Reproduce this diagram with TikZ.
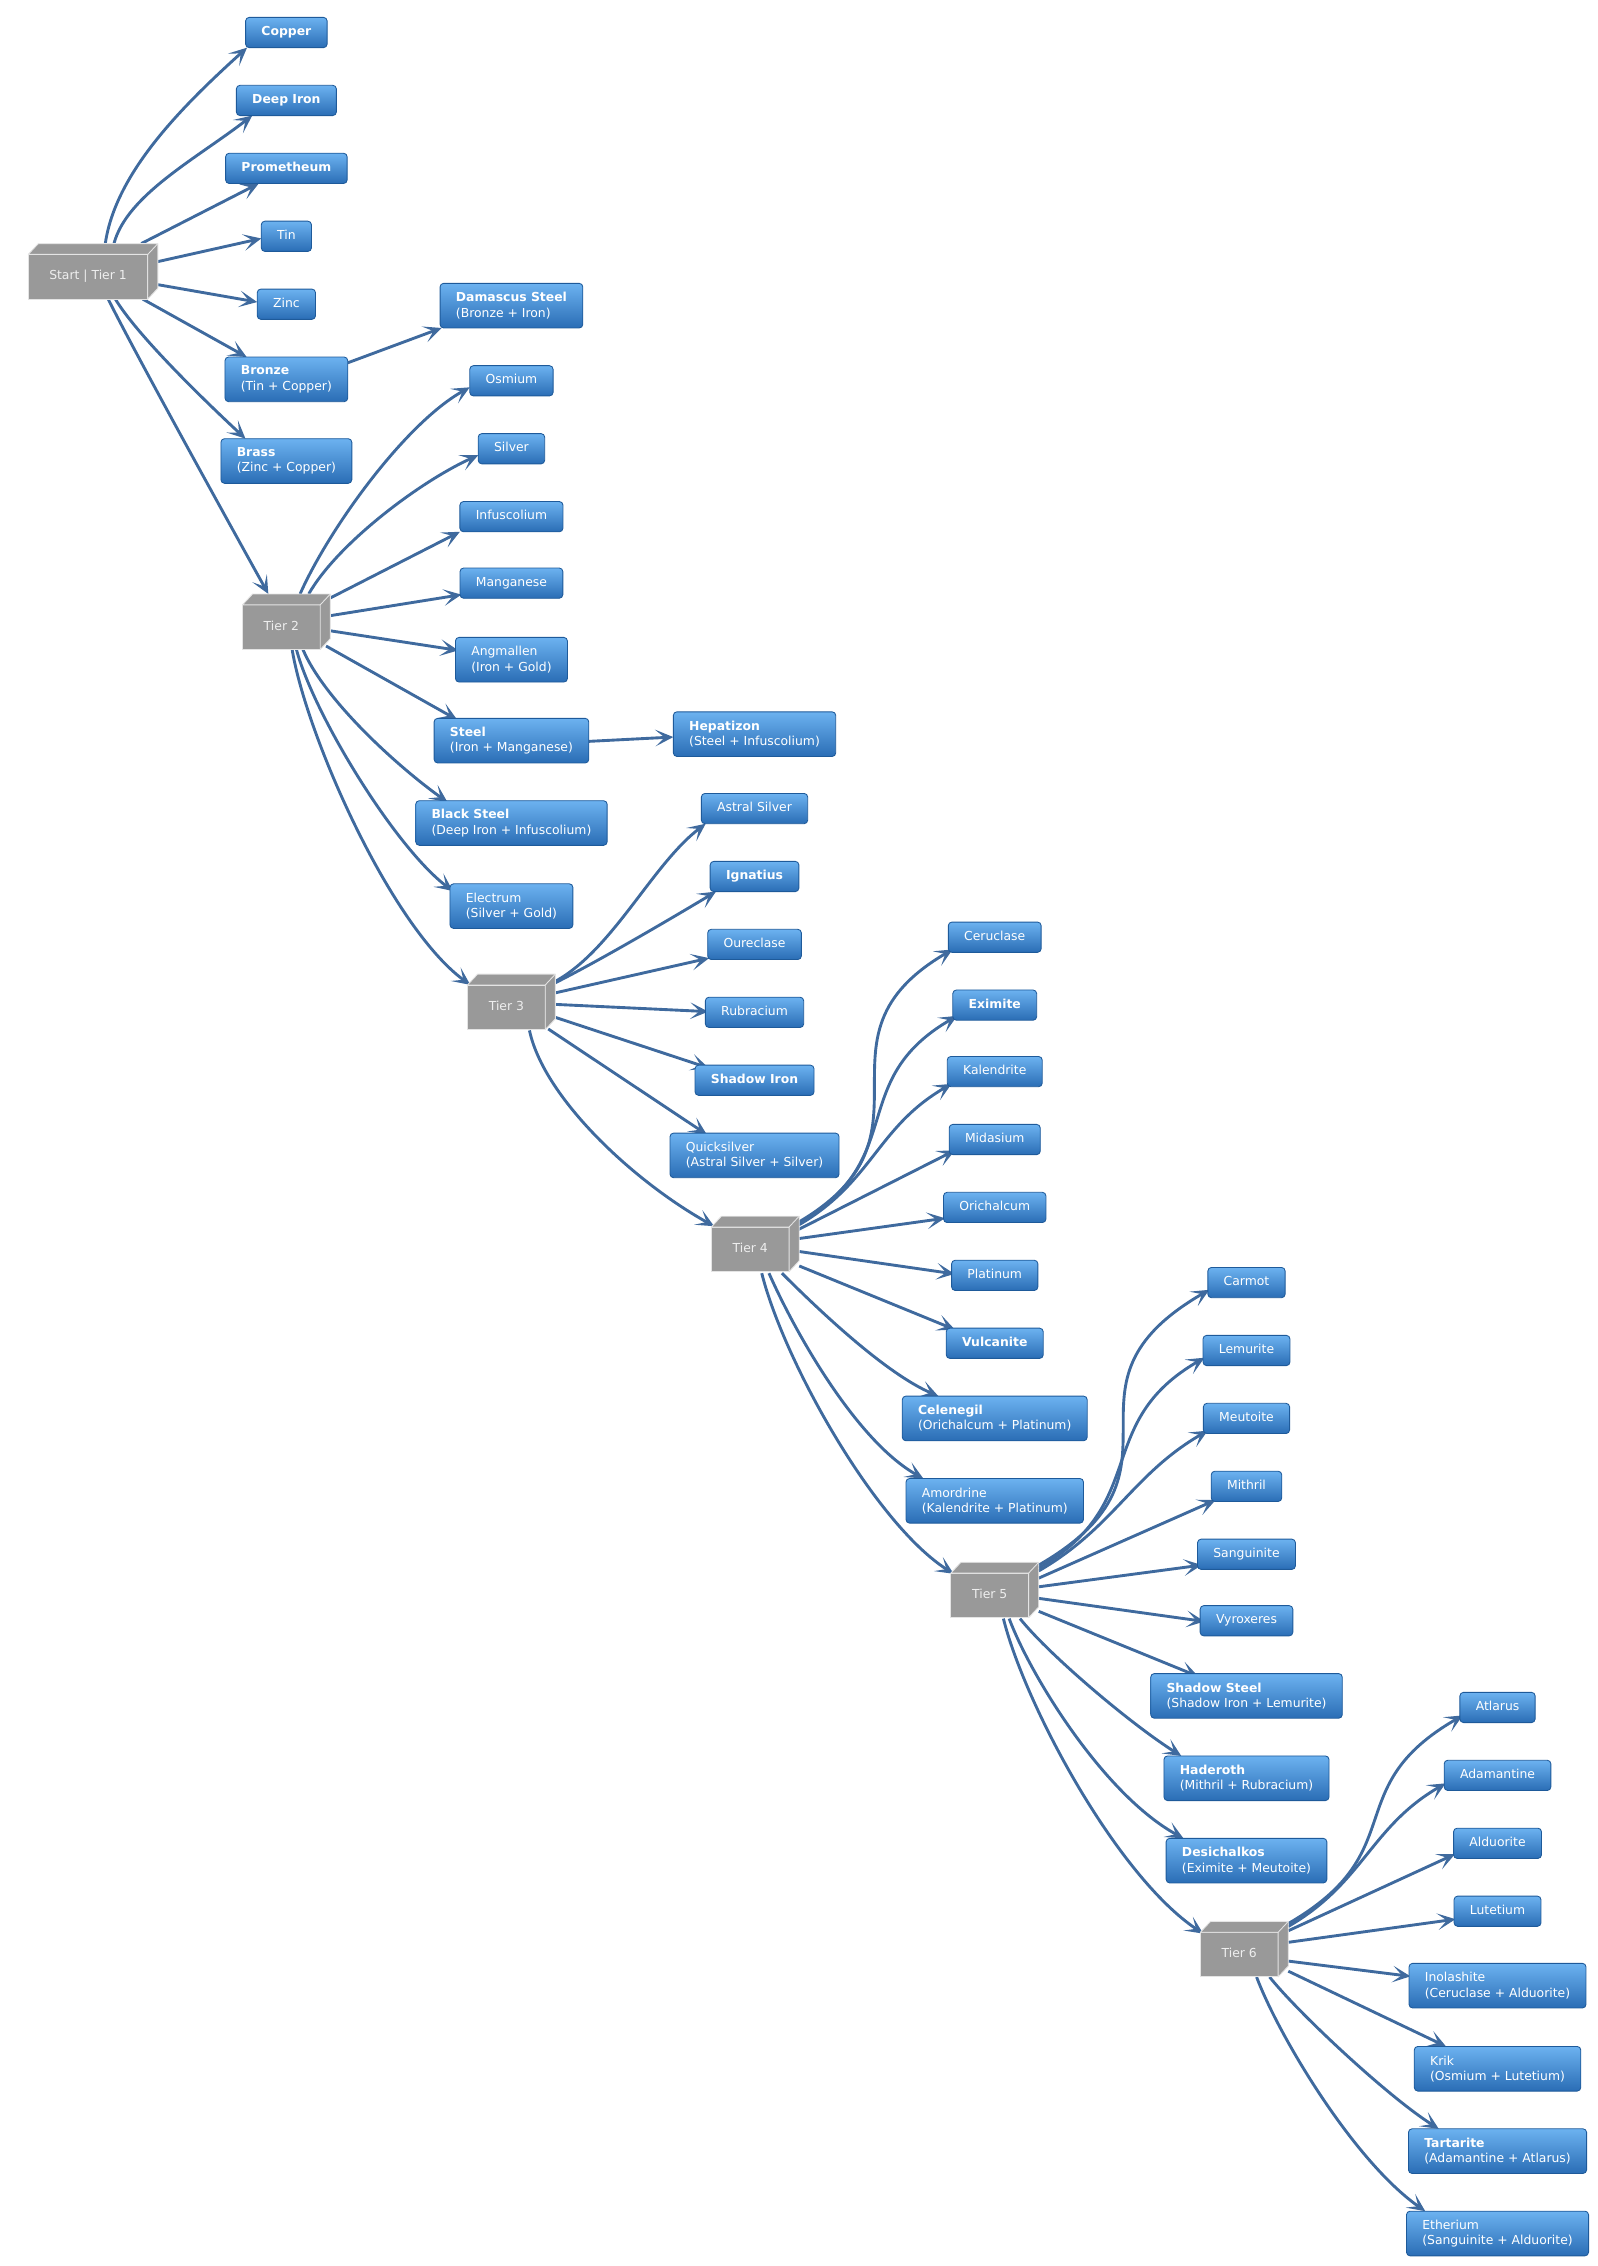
\documentclass[tikz,border=0pt]{standalone}
\usepackage{fontspec}
\setmainfont{DejaVu Sans}
\usetikzlibrary{arrows.meta}
\definecolor{boxTop}{HTML}{6CB2F0}
\definecolor{boxBot}{HTML}{2A6DB5}
\definecolor{boxLine}{HTML}{1E5A9A}
\definecolor{edgeCol}{HTML}{3F6A9E}
\definecolor{tierGray}{HTML}{999999}
\definecolor{tierLine}{HTML}{E4E4E4}
\definecolor{tierText}{HTML}{EEEEEE}
\pgfdeclarelayer{background}
\pgfsetlayers{background,main}
\newcommand\cedge[6]{\draw[edge] ([shift={#2}]#1) .. controls +#3 and +#4 .. ([shift={#6}]#5);}
\newcommand\sedge[4]{\draw[edge] ([shift={#2}]#1) -- ([shift={#4}]#3);}
\newcommand\tierfaces[1]{%
 \filldraw[fill=tierGray, draw=tierLine, line width=0.6pt, line join=round] (#1.north west) -- ([shift={(7,-7.5)}]#1.north west) -- ([shift={(7,-7.5)}]#1.north east) -- ([shift={(7,-7.5)}]#1.south east) -- (#1.south east) -- (#1.north east) -- cycle;
 \draw[tierLine, line width=0.6pt] (#1.north east) -- ([shift={(7,-7.5)}]#1.north east);}
\tikzset{
 mbox/.style={draw=boxLine, line width=0.6pt, rounded corners=2.5pt, top color=boxTop, bottom color=boxBot, text=white,
   font=\fontsize{8.6}{10.6}\selectfont, inner xsep=11pt, inner ysep=0pt, minimum height=21pt, outer sep=0pt,
   text height=6.4pt, text depth=2pt},
 mbox2/.style={mbox, align=left, minimum height=31pt, text height=, text depth=},
 tierbox/.style={fill=tierGray, draw=tierLine, line width=0.6pt, text=tierText, font=\fontsize{8.6}{10.6}\selectfont,
   minimum height=31pt, minimum width=54pt, inner xsep=0pt, inner ysep=0pt, outer sep=0pt, text height=6.4pt, text depth=2pt},
 edge/.style={draw=edgeCol, line width=2pt, -{Stealth[length=12.5pt,width=11.5pt,inset=6.5pt]}}
}
\begin{document}
\begin{tikzpicture}[x=1.0015pt,y=-1.0032pt]
\useasboundingbox (0,0) rectangle (1107.3,1568);
% tiers
\node[tierbox, minimum width=83pt] (t1) at (61,191.5) {Start | Tier 1};
\node[tierbox] (t2) at (195,434) {Tier 2};
\node[tierbox] (t3) at (351,697) {Tier 3};
\node[tierbox] (t4) at (520,864.5) {Tier 4};
\node[tierbox] (t5) at (686,1104) {Tier 5};
\node[tierbox] (t6) at (859,1352.5) {Tier 6};
\tierfaces{t1}\tierfaces{t2}\tierfaces{t3}\tierfaces{t4}\tierfaces{t5}\tierfaces{t6}
% column A
\node[mbox] (copper) at (198.5,22.5) {\textbf{Copper}};
\node[mbox] (deepiron) at (198.5,69.5) {\textbf{Deep Iron}};
\node[mbox] (prometheum) at (198.5,116.5) {\textbf{Prometheum}};
\node[mbox] (tin) at (198.5,163.5) {Tin};
\node[mbox] (zinc) at (198.5,210.5) {Zinc};
\node[mbox2] (bronze) at (198.5,262.5) {\textbf{Bronze}\\(Tin + Copper)};
\node[mbox2] (brass) at (198.5,319) {\textbf{Brass}\\(Zinc + Copper)};
% column B
\node[mbox2] (damascus) at (354.5,211.5) {\textbf{Damascus Steel}\\(Bronze + Iron)};
\node[mbox] (osmium) at (354.5,263.5) {Osmium};
\node[mbox] (silver) at (354.5,310.5) {Silver};
\node[mbox] (infusc) at (354.5,357.5) {Infuscolium};
\node[mbox] (mangan) at (354.5,403.5) {Manganese};
\node[mbox2] (angm) at (354.5,456.5) {Angmallen\\(Iron + Gold)};
\node[mbox2] (steel) at (354.5,512.5) {\textbf{Steel}\\(Iron + Manganese)};
\node[mbox2] (blacksteel) at (354.5,569.5) {\textbf{Black Steel}\\(Deep Iron + Infuscolium)};
\node[mbox2] (electrum) at (354.5,627) {Electrum\\(Silver + Gold)};
% column C
\node[mbox2] (hepatizon) at (523,508) {\textbf{Hepatizon}\\(Steel + Infuscolium)};
\node[mbox] (astral) at (523,559.5) {Astral Silver};
\node[mbox] (ignatius) at (523,606.5) {\textbf{Ignatius}};
\node[mbox] (oureclase) at (523,653.5) {Oureclase};
\node[mbox] (rubracium) at (523,700.5) {Rubracium};
\node[mbox] (shadowiron) at (523,747.5) {\textbf{Shadow Iron}};
\node[mbox2] (quicksilver) at (523,799.5) {Quicksilver\\(Astral Silver + Silver)};
% column D
\node[mbox] (ceruclase) at (689.5,648.5) {Ceruclase};
\node[mbox] (eximite) at (689.5,695.5) {\textbf{Eximite}};
\node[mbox] (kalendrite) at (689.5,741.5) {Kalendrite};
\node[mbox] (midasium) at (689.5,788.5) {Midasium};
\node[mbox] (orichalcum) at (689.5,835.5) {Orichalcum};
\node[mbox] (platinum) at (689.5,882.5) {Platinum};
\node[mbox] (vulcanite) at (689.5,929.5) {\textbf{Vulcanite}};
\node[mbox2] (celenegil) at (689.5,981.5) {\textbf{Celenegil}\\(Orichalcum + Platinum)};
\node[mbox2] (amordrine) at (689.5,1038.5) {Amordrine\\(Kalendrite + Platinum)};
% column E
\node[mbox] (carmot) at (864,887.5) {Carmot};
\node[mbox] (lemurite) at (864,934.5) {Lemurite};
\node[mbox] (meutoite) at (864,981.5) {Meutoite};
\node[mbox] (mithril) at (864,1028.5) {Mithril};
\node[mbox] (sanguinite) at (864,1075.5) {Sanguinite};
\node[mbox] (vyroxeres) at (864,1121.5) {Vyroxeres};
\node[mbox2] (shadowsteel) at (864,1173.5) {\textbf{Shadow Steel}\\(Shadow Iron + Lemurite)};
\node[mbox2] (haderoth) at (864,1230.5) {\textbf{Haderoth}\\(Mithril + Rubracium)};
\node[mbox2] (desichalkos) at (864,1287.5) {\textbf{Desichalkos}\\(Eximite + Meutoite)};
% column F
\node[mbox] (atlarus) at (1038,1181.5) {Atlarus};
\node[mbox] (adamantine) at (1038,1228.5) {Adamantine};
\node[mbox] (alduorite) at (1038,1275.5) {Alduorite};
\node[mbox] (lutetium) at (1038,1322.5) {Lutetium};
\node[mbox2] (inolashite) at (1038,1374) {Inolashite\\(Ceruclase + Alduorite)};
\node[mbox2] (krik) at (1038,1431.5) {Krik\\(Osmium + Lutetium)};
\node[mbox2] (tartarite) at (1038,1488.5) {\textbf{Tartarite}\\(Adamantine + Atlarus)};
\node[mbox2] (etherium) at (1038,1545.5) {Etherium\\(Sanguinite + Alduorite)};
\begin{pgfonlayer}{background}
% tier 1
\cedge{t1.center}{(12,-23)}{(7,-48.5)}{(-46,41.5)}{copper.south west}{(1,0)}
\cedge{t1.center}{(18,-23)}{(9,-33.5)}{(-39,30)}{deepiron.south west}{(11,0)}
\sedge{t1.center}{(37,-23)}{prometheum.south west}{(23,0)}
\sedge{t1.center}{(48.5,-10.5)}{tin.west}{(0,1.5)}
\sedge{t1.center}{(48.5,5.5)}{zinc.west}{(0,-1.5)}
\sedge{t1.center}{(38,15.5)}{bronze.north west}{(15,0)}
\cedge{t1.center}{(19,15.5)}{(15,25)}{(-28,-26)}{brass.north west}{(17,0)}
\cedge{t1.center}{(14,15.5)}{(20,40)}{(-25,-45)}{t2.center}{(-9,-23)}
\sedge{bronze.north east}{(0,4)}{damascus.south west}{(1,0)}
% tier 2
\cedge{t2.center}{(13,-23)}{(20,-45)}{(-45,25)}{osmium.west}{(0,4.5)}
\cedge{t2.center}{(19,-23)}{(20,-35)}{(-40,18)}{silver.west}{(0,4.5)}
\sedge{t2.center}{(33.5,-20)}{infusc.south west}{(0,0)}
\sedge{t2.center}{(34,-8)}{mangan.south west}{(1,-2.5)}
\sedge{t2.center}{(34,2.5)}{angm.north west}{(2,9)}
\sedge{t2.center}{(31,13)}{steel.north west}{(16,1)}
\cedge{t2.center}{(15,15.5)}{(15,35)}{(-35,-25)}{blacksteel.north west}{(22,1)}
\cedge{t2.center}{(10.5,15.5)}{(12,45)}{(-40,-30)}{electrum.north west}{(2,5)}
\cedge{t2.center}{(7.5,15.5)}{(10,60)}{(-55,-40)}{t3.center}{(-25,-15.5)}
\sedge{steel.east}{(0,0.5)}{hepatizon.west}{(0,2)}
% tier 3
\cedge{t3.center}{(34,-18)}{(40,-22)}{(-37,28)}{astral.south west}{(3,0)}
\cedge{t3.center}{(34,-17)}{(30,-15)}{(-30,18)}{ignatius.south west}{(4,0)}
\sedge{t3.center}{(34,-10)}{oureclase.south west}{(1,-1)}
\sedge{t3.center}{(34,-2)}{rubracium.west}{(2,-0.5)}
\sedge{t3.center}{(34,7)}{shadowiron.north west}{(9.5,2)}
\sedge{t3.center}{(29,15)}{quicksilver.north west}{(25.5,1)}
\cedge{t3.center}{(16,16)}{(10,47)}{(-55,-30.5)}{t4.center}{(-25,-16)}
% tier 4
\cedge{t4.center}{(33,-18.5)}{(105,-61)}{(-105,61)}{ceruclase.south west}{(3,-2)}
\cedge{t4.center}{(33,-17.5)}{(78,-45)}{(-78,45)}{eximite.south west}{(3,-3)}
\cedge{t4.center}{(33,-16.5)}{(52,-30)}{(-52,30)}{kalendrite.south west}{(3,-2)}
\sedge{t4.center}{(33,-13.5)}{midasium.south west}{(4,-3)}
\sedge{t4.center}{(34,-7.5)}{orichalcum.south west}{(1,-3)}
\sedge{t4.center}{(34,1.5)}{platinum.west}{(2,-1)}
\sedge{t4.center}{(34,11.5)}{vulcanite.north west}{(6,1)}
\cedge{t4.center}{(22,16.5)}{(30,30)}{(-35,-15)}{celenegil.north west}{(25,0)}
\cedge{t4.center}{(13,16.5)}{(20,45)}{(-45,-25)}{amordrine.north west}{(12,0)}
\cedge{t4.center}{(8,16.5)}{(15,60)}{(-55,-35)}{t5.center}{(-25,-15)}
% tier 5
\cedge{t5.center}{(34,-21)}{(116,-67)}{(-116,67)}{carmot.west}{(1,5)}
\cedge{t5.center}{(34,-19)}{(78,-45)}{(-78,45)}{lemurite.west}{(1,5)}
\cedge{t5.center}{(34,-17)}{(52,-30)}{(-52,30)}{meutoite.south west}{(3,-2)}
\sedge{t5.center}{(34,-12)}{mithril.south west}{(3,-1)}
\sedge{t5.center}{(34,-6)}{sanguinite.south west}{(3,-3)}
\sedge{t5.center}{(34,2)}{vyroxeres.west}{(3,0.5)}
\sedge{t5.center}{(34,11)}{shadowsteel.north west}{(33,2)}
\cedge{t5.center}{(21,16)}{(20,25)}{(-35,-22)}{haderoth.north west}{(12,0)}
\cedge{t5.center}{(13.5,16)}{(15,40)}{(-55,-30)}{desichalkos.north west}{(12,0)}
\cedge{t5.center}{(9.5,16)}{(15,60)}{(-60,-40)}{t6.center}{(-25,-14.5)}
% tier 6
\cedge{t6.center}{(34,-21.5)}{(87,-50)}{(-87,50)}{atlarus.west}{(2,5.5)}
\cedge{t6.center}{(34,-19.5)}{(52,-30)}{(-52,30)}{adamantine.west}{(1,5.5)}
\sedge{t6.center}{(34,-16.5)}{alduorite.south west}{(1,-3)}
\sedge{t6.center}{(34,-8.5)}{lutetium.west}{(1,5.5)}
\sedge{t6.center}{(34,4.5)}{inolashite.north west}{(1,9)}
\sedge{t6.center}{(34,11.5)}{krik.north west}{(22,0)}
\cedge{t6.center}{(21,15.5)}{(20,25)}{(-35,-22)}{tartarite.north west}{(21,0)}
\cedge{t6.center}{(12,15.5)}{(15,40)}{(-50,-35)}{etherium.north west}{(13,0)}
\end{pgfonlayer}
\end{tikzpicture}
\end{document}
